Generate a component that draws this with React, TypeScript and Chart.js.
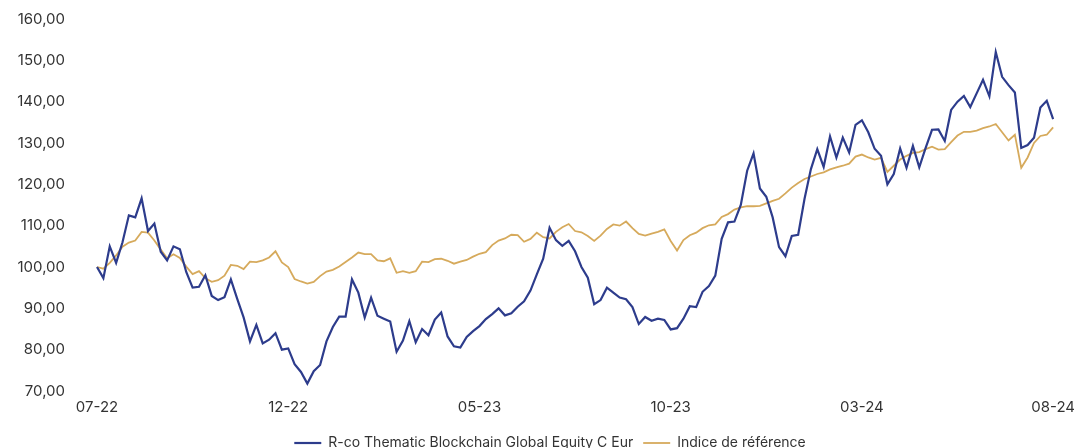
import React, { useEffect, useRef } from "react";
import { Chart, registerables } from "chart.js";

Chart.register(...registerables);

const tickLabels = ["07-22", "12-22", "05-23", "10-23", "03-24", "08-24"];

const fundName = "R-co Thematic Blockchain Global Equity C Eur";
const benchName = "Indice de référence";

const fundValues = [
  100, 97.3, 105, 101, 106, 112.5, 112, 116.6, 108.7, 110.5,
  103.7, 101.6, 105, 104.3, 98.8, 95, 95.2, 98, 93, 92,
  92.7, 97, 92.3, 87.8, 82, 86, 81.5, 82.4, 84, 80,
  80.3, 76.5, 74.6, 71.8, 74.8, 76.3, 82, 85.5, 88, 88,
  97, 93.8, 87.8, 92.6, 88.2, 87.5, 86.8, 79.5, 82.2, 86.9,
  81.8, 85, 83.5, 87.3, 89, 83.2, 80.8, 80.5, 83.1, 84.5,
  85.7, 87.4, 88.6, 90, 88.3, 88.8, 90.4, 91.7, 94.3, 98.2,
  102, 109.5, 106.5, 105.1, 106.3, 103.8, 100, 97.4, 91, 92,
  95, 93.8, 92.6, 92.2, 90.3, 86.2, 87.9, 87, 87.5, 87.2,
  84.9, 85.2, 87.5, 90.5, 90.3, 94, 95.4, 97.9, 106.8, 110.8,
  111, 115, 123.3, 127.5, 119, 117, 112, 104.8, 102.6, 107.5,
  107.8, 116.5, 123.7, 128.5, 124.2, 131.6, 126.5, 131.3, 127.7, 134.4,
  135.5, 132.6, 128.6, 126.9, 120, 122.5, 128.7, 124, 129.3, 124.1,
  128.8, 133.2, 133.3, 130.5, 138, 140, 141.4, 138.7, 142, 145.3,
  141.3, 152, 146, 144, 142.2, 128.8, 129.5, 131.3, 138.6, 140.2, 135.8,
];

const benchValues = [
  100, 99.6, 101, 102.8, 104.9, 105.9, 106.4, 108.5, 108.3, 106.4,
  104.2, 102.1, 103.1, 102.2, 100.1, 98.3, 99, 97.3, 96.4, 96.8,
  97.9, 100.5, 100.3, 99.5, 101.3, 101.2, 101.6, 102.3, 103.8, 101.1,
  100, 97.1, 96.5, 96, 96.4, 97.8, 98.9, 99.3, 100.1, 101.2,
  102.3, 103.5, 103.1, 103.1, 101.6, 101.4, 102.1, 98.6, 99, 98.6,
  99, 101.3, 101.2, 101.9, 102, 101.5, 100.8, 101.3, 101.7, 102.5,
  103.2, 103.6, 105.3, 106.4, 106.9, 107.8, 107.7, 106.1, 106.8, 108.3,
  107.2, 106.9, 108.5, 109.6, 110.4, 108.7, 108.4, 107.5, 106.3, 107.6,
  109.2, 110.3, 110, 111, 109.4, 108, 107.6, 108.1, 108.5, 109.1,
  106.3, 104, 106.5, 107.7, 108.3, 109.4, 110.1, 110.3, 112.1, 112.8,
  113.9, 114.4, 114.7, 114.7, 114.8, 115.4, 116, 116.5, 117.8, 119.2,
  120.3, 121.3, 121.9, 122.5, 122.9, 123.6, 124.1, 124.5, 125, 126.7,
  127.2, 126.5, 126, 126.4, 123, 124.5, 126, 126.9, 127.6, 127.8,
  128.5, 129.1, 128.4, 128.5, 130.2, 131.8, 132.7, 132.7, 133, 133.6,
  134, 134.6, 132.6, 130.6, 132, 124, 126.5, 130, 131.7, 132, 133.8,
];

const labelStep = (fundValues.length - 1) / (tickLabels.length - 1);
const categories = fundValues.map((_, i) =>
  i % labelStep === 0 ? tickLabels[i / labelStep] : ""
);

const FONT = "Inter, 'Noto Sans', sans-serif";
const TEXT = "#333333";
const BLUE = "#2d3c8c";
const GOLD = "#d6aa5c";

const legendShift = {
  id: "legendShift",
  afterLayout(chart: any) {
    const lg = chart.legend;
    if (lg) {
      lg.left += 16;
      lg.right += 16;
    }
  },
};

export default function App() {
  const ref = useRef<HTMLCanvasElement | null>(null);

  useEffect(() => {
    if (!ref.current) return;
    const chart = new Chart(ref.current, {
      type: "line",
      data: {
        labels: categories,
        datasets: [
          {
            label: fundName,
            data: fundValues,
            borderColor: BLUE,
            backgroundColor: BLUE,
            borderWidth: 2.2,
            pointRadius: 0,
            tension: 0,
          },
          {
            label: benchName,
            data: benchValues,
            borderColor: GOLD,
            backgroundColor: GOLD,
            borderWidth: 1.8,
            pointRadius: 0,
            tension: 0,
          },
        ],
      },
      plugins: [legendShift],
      options: {
        animation: false,
        responsive: false,
        events: [],
        layout: { padding: { left: 0, right: 22, top: 10, bottom: 0 } },
        plugins: {
          tooltip: { enabled: false },
          legend: {
            position: "bottom",
            labels: {
              usePointStyle: true,
              pointStyle: "line",
              pointStyleWidth: 27,
              padding: 10,
              color: TEXT,
              font: { family: FONT, size: 14 },
            },
          },
        },
        scales: {
          x: {
            type: "category",
            offset: false,
            grid: { display: false, drawTicks: false },
            border: { display: false },
            afterFit: (s: any) => {
              s.height = 35;
            },
            ticks: {
              autoSkip: false,
              maxRotation: 0,
              minRotation: 0,
              padding: 7,
              color: TEXT,
              font: { family: FONT, size: 15 },
            },
          },
          y: {
            min: 70,
            max: 160,
            grid: {
              display: true,
              drawOnChartArea: false,
              drawTicks: true,
              tickLength: 30,
              color: "rgba(0,0,0,0)",
            },
            border: { display: false },
            afterFit: (s: any) => {
              s.width = 89;
            },
            ticks: {
              stepSize: 10,
              padding: 2,
              color: TEXT,
              font: { family: FONT, size: 15 },
              callback: (v: any) => Number(v).toFixed(2).replace(".", ","),
            },
          },
        },
      },
    });
    return () => chart.destroy();
  }, []);

  return (
    <div style={{ width: 1074, height: 452 }}>
      <canvas ref={ref} width={1074} height={452} style={{ display: "block" }} />
    </div>
  );
}
